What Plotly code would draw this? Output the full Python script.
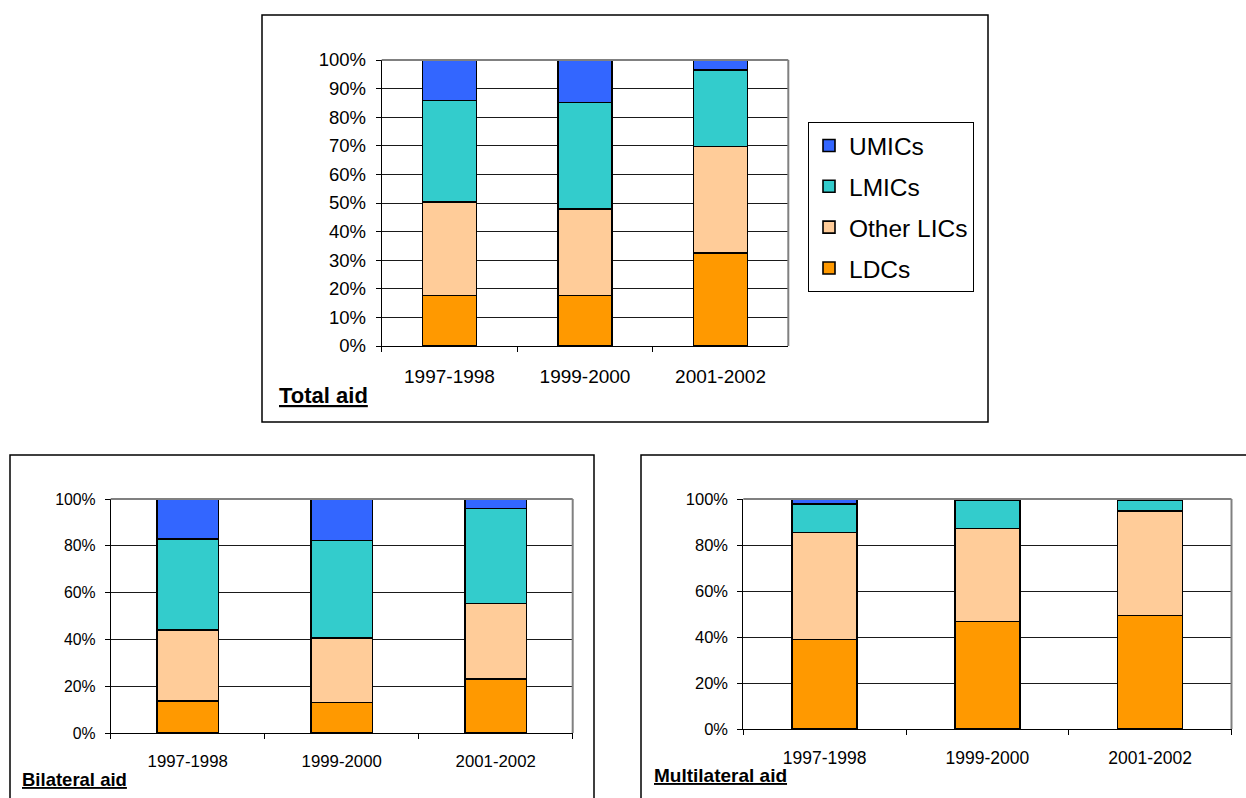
import plotly.graph_objects as go

# Aid allocation by income group, shares of total (%)
periods = ["1997-1998", "1999-2000", "2001-2002"]
groups = ["LDCs", "Other LICs", "LMICs", "UMICs"]
group_colors = ["#FF9900", "#FFCC99", "#33CCCC", "#3366FF"]
legend_ranks = [4, 3, 2, 1]

total_ldcs = [17.7, 17.7, 32.6]
total_other_lics = [32.6, 30.2, 37.1]
total_lmics = [35.5, 37.2, 26.8]
total_umics = [14.2, 14.9, 3.5]

bilateral_ldcs = [13.7, 13.0, 23.0]
bilateral_other_lics = [30.2, 27.7, 32.3]
bilateral_lmics = [39.1, 41.6, 40.7]
bilateral_umics = [17.0, 17.7, 4.0]

multilateral_ldcs = [39.0, 46.8, 49.3]
multilateral_other_lics = [46.5, 40.3, 45.5]
multilateral_lmics = [12.3, 12.3, 4.6]
multilateral_umics = [2.2, 0.6, 0.6]

y_ticks_total = [0, 10, 20, 30, 40, 50, 60, 70, 80, 90, 100]
y_ticks_sub = [0, 20, 40, 60, 80, 100]

W, H = 1246, 798
FONT = "Liberation Sans, Arial, sans-serif"


def fx(p):
    return p / W


def fy(p):
    return 1 - p / H


panels = [
    # (axis suffix, series, x span px, y span px (top, bottom), y ticks, y/x tick font sizes, legend)
    ("", [total_ldcs, total_other_lics, total_lmics, total_umics],
     (381.7, 788.3), (60, 346), y_ticks_total, 18.5, 19, True),
    ("2", [bilateral_ldcs, bilateral_other_lics, bilateral_lmics, bilateral_umics],
     (110.7, 572.7), (499, 733), y_ticks_sub, 15.8, 16.8, False),
    ("3", [multilateral_ldcs, multilateral_other_lics, multilateral_lmics, multilateral_umics],
     (743.3, 1231.5), (499, 729), y_ticks_sub, 16.5, 17.5, False),
]

fig = go.Figure()
layout_axes = {}
shapes = []

for suffix, series, (x0, x1), (ytop, ybot), yticks, ysize, xsize, legend_on in panels:
    for name, color, rank, vals in zip(groups, group_colors, legend_ranks, series):
        fig.add_trace(go.Bar(
            x=periods, y=vals, name=name,
            xaxis="x" + suffix, yaxis="y" + suffix,
            width=0.4,
            marker=dict(color=color, line=dict(color="black", width=1.6)),
            showlegend=legend_on, legendgroup=name, legendrank=rank,
        ))
    layout_axes["xaxis" + suffix] = dict(
        domain=[fx(x0), fx(x1)], anchor="y" + suffix, automargin=False,
        type="category", categoryorder="array", categoryarray=periods,
        showline=True, linecolor="black", linewidth=1,
        ticks="outside", tickson="boundaries", ticklen=5, tickcolor="black",
        showgrid=False, zeroline=False,
        tickfont=dict(family=FONT, size=xsize, color="black"),
        ticklabelstandoff=13,
    )
    layout_axes["yaxis" + suffix] = dict(
        domain=[fy(ybot), fy(ytop)], anchor="x" + suffix, automargin=False,
        range=[0, 100], tickmode="array", tickvals=yticks,
        ticktext=["%d%%" % v for v in yticks],
        showline=True, linecolor="black", linewidth=1,
        ticks="outside", ticklen=5, tickcolor="black",
        showgrid=True, gridcolor="#1a1a1a", gridwidth=1, zeroline=False,
        tickfont=dict(family=FONT, size=ysize, color="black"),
        ticklabelstandoff=6,
    )
    # plot-area frame on the top and right sides
    shapes.append(dict(type="line", xref="paper", yref="paper",
                       x0=fx(x0), x1=fx(x1), y0=fy(ytop), y1=fy(ytop),
                       line=dict(color="#808080", width=2)))
    shapes.append(dict(type="line", xref="paper", yref="paper",
                       x0=fx(x1), x1=fx(x1), y0=fy(ytop), y1=fy(ybot),
                       line=dict(color="#808080", width=2)))

# chart frames
for (bx0, by0, bx1, by1) in [(262, 15, 988, 422), (10, 455, 594, 820), (641, 455, 1270, 820)]:
    shapes.append(dict(type="rect", xref="paper", yref="paper",
                       x0=fx(bx0), x1=fx(bx1), y0=fy(by1), y1=fy(by0),
                       line=dict(color="black", width=1.5), layer="below"))

titles = [("Total aid", 277, 395, 22), ("Bilateral aid", 20, 779, 18.5),
          ("Multilateral aid", 652, 775, 19)]
annotations = [
    dict(text="<b><u>%s</u></b>" % t, xref="paper", yref="paper",
         x=fx(tx), y=fy(ty), xanchor="left", yanchor="middle", showarrow=False,
         font=dict(family=FONT, size=ts, color="black"))
    for t, tx, ty, ts in titles
]

fig.update_layout(
    width=W, height=H, autosize=False,
    margin=dict(l=0, r=0, t=0, b=0, pad=0, autoexpand=False),
    paper_bgcolor="white", plot_bgcolor="white",
    barmode="stack", bargap=0.6,
    showlegend=True,
    legend=dict(
        x=fx(808), y=fy(122), xanchor="left", yanchor="top",
        bordercolor="black", borderwidth=1, bgcolor="white",
        font=dict(family=FONT, size=24.5, color="black"),
        traceorder="grouped", tracegroupgap=6,
    ),
    shapes=shapes, annotations=annotations,
    **layout_axes,
)

fig.write_html("out.html")
